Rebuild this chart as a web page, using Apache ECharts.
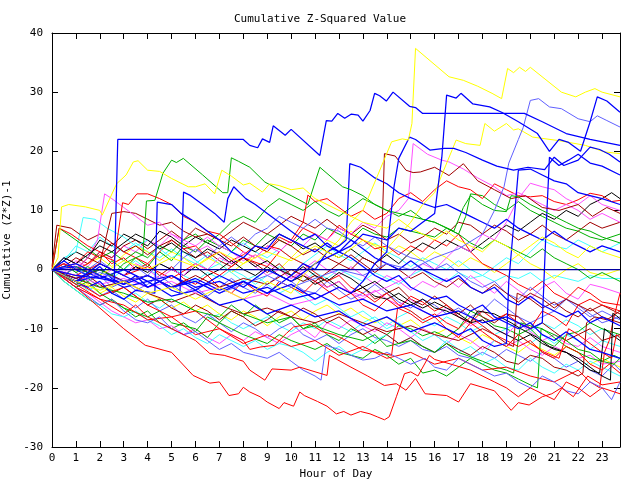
<!DOCTYPE html>
<html><head><meta charset="utf-8">
<script src="https://cdn.jsdelivr.net/npm/echarts@6/dist/echarts.min.js"></script>
<style>html,body{margin:0;padding:0;background:#fff}#c{width:640px;height:480px}</style>
</head><body><div id="c"></div>
<script>
// ---- data: [hour, cumulative (z*z)-1] ----
const blue1 = [[0,0],[1,-1],[2,-1.5],[2.6,-2],[2.75,22],[8,22],[8.27,21],[8.6,20.6],[8.8,22.1],[9.1,21.5],[9.25,24.3],[9.75,22.7],[10,23.7],[11.2,19.3],[11.47,25.2],[11.7,25.1],[11.95,26.4],[12.24,25.6],[12.52,26.3],[12.8,26.1],[13,25.1],[13.3,26.9],[13.49,29.8],[13.7,29.4],[13.98,28.5],[14.26,30],[14.95,27.6],[15.2,27.4],[15.5,26.4],[19.75,26.4],[20.5,25],[21.5,23],[22.5,22],[23.75,21]];
const yellow1 = [[0,0],[1,-2],[2,-3.5],[3,-2],[4,-4],[5,-3],[6,-5],[7,-3],[8,-5],[9,-2],[10,-4],[10.5,-1],[11,1],[11.5,3],[12,5],[12.5,8],[13,10],[13.5,14.8],[14.2,21.6],[14.65,22.1],[14.9,21.9],[15.05,24.7],[15.2,37.4],[16.6,32.6],[17.2,32],[17.8,31],[18.4,29.8],[18.8,28.9],[19.05,34],[19.3,33.3],[19.55,34.2],[19.8,33.5],[20,34.2],[21.3,30],[21.9,29.2],[22.3,30],[22.7,30.6],[23,30],[23.75,29.2]];
const green1 = [[0,0],[0.5,-1],[1,0.5],[1.5,-0.5],[2,0],[2.5,-1],[3,1],[3.5,2],[3.8,2.5],[3.95,11.6],[4.3,11.7],[4.64,16.3],[5,18.5],[5.2,18.1],[5.49,18.8],[6.3,16],[7.14,13],[7.35,13],[7.5,18.9],[7.8,18.3],[8.27,17.3],[8.9,14.8],[9.5,13.5],[10,12.5],[10.7,11],[11.2,17.3],[12.15,14],[12.5,13.5],[13,12.5],[13.5,11],[14,10],[15,9],[16,8],[16.8,6.5],[17.2,10.5],[17.5,12.5],[18,11],[18.5,10],[19,9.8],[19.2,12.5],[19.5,12.3],[20,11],[20.5,10],[21,9],[21.5,8],[22,7],[22.5,6.5],[23,5.5],[23.75,4.5]];
const yellow2 = [[0,0],[0.25,2],[0.4,10.6],[0.7,11],[1.4,10.6],[2,10],[2.1,9.2],[2.7,14.5],[3.1,16],[3.4,18.2],[3.6,18.4],[4,16.8],[4.5,16.6],[5,15.4],[5.7,14],[6,14],[6.4,14.5],[6.8,12.8],[7.1,16.8],[7.5,15.8],[8,14.3],[8.27,14.6],[8.8,13.1],[9.1,14.5],[9.5,14.2],[10,13.5],[10.5,13.8],[11,12],[11.5,11],[12,10],[12.5,9],[13,8],[13.5,7.5],[14,7],[14.5,8.5],[15,7],[15.5,6],[16,5],[16.5,6.5],[17,5],[17.5,4],[18,3],[18.5,5],[19,4],[19.5,2.5],[20,4],[20.5,5.5],[21,4.5],[21.5,3],[22,2],[22.5,4],[23,3],[23.75,2]];
const yellow3 = [[0,0],[1,1],[2,-1],[3,1.5],[4,0],[5,2],[6,0.5],[7,3],[8,1],[9,3],[10,1.5],[11,4],[12,2],[13,5],[14,3.5],[15,8],[15.5,11],[16,13],[16.3,16],[16.9,21.9],[17.3,21.3],[17.9,21],[18.1,24.7],[18.5,23.4],[19,24.7],[19.3,23.6],[19.5,23.8],[20.1,22.4],[21.2,21.8],[22.3,21],[23.1,19.9],[23.75,19.6]];
const blue2 = [[0,0],[1,-2],[2,1],[3,-1],[4,-3],[5,-1],[6,-3.5],[7,-1],[8,-3],[9,0],[10,-2],[11,1],[12,3],[12.5,4],[13,6],[14,5],[14.5,7],[15,6.5],[15.5,8],[16,9.5],[16.3,19],[16.5,29.5],[16.9,29],[17.1,29.8],[17.6,28],[18.3,27.5],[18.8,26.6],[19.5,25],[20.3,23],[20.8,20],[21.2,22],[21.6,21.5],[22.1,20],[22.5,25],[22.8,29.2],[23.2,28.5],[23.75,26.6]];
const lightblue1 = [[0,0],[0.5,-1],[1,0.5],[1.5,-1.5],[2,-0.5],[3,-2],[4,-1],[5,-3],[6,-2],[7,-4],[8,-2.5],[9,-1],[10,-3],[11,-1.5],[12,0],[13,-1],[14,1],[15,0],[16,2],[17,3.5],[18,6],[18.5,10],[18.9,14],[19.1,18],[19.5,22],[19.7,24],[20,28.6],[20.35,28.9],[20.8,27.5],[21.3,27.2],[22,25.5],[22.5,25],[22.8,26],[23.2,25.2],[23.75,24.1]];
const blue3 = [[0,0],[1,1],[2,-1],[3,-2.5],[4,-1],[5,-3],[6,-2],[7,-4],[8,-2],[9,-4],[10,-2.5],[11,-5],[12,-3],[12.5,-4],[13,-2],[13.5,1],[14,3],[14.3,14],[14.5,18.8],[14.95,22.4],[15.2,22],[15.8,20.2],[16.4,20.5],[16.8,20.5],[17.3,19.8],[18,18.5],[18.6,17.5],[19.3,16.8],[19.9,17.3],[20.6,16.9],[21,19],[21.4,17.6],[22,18.5],[22.5,20.7],[22.9,20.3],[23.3,19.5],[23.75,18.2]];
const darkred1 = [[0,0],[1,-1.5],[2,0],[3,-2],[4,-1],[5,-3],[6,-1],[7,-3],[8,-1.5],[9,-2.5],[10,0],[11,-2],[12,1],[12.5,0],[13,2],[13.5,1],[13.75,0],[13.9,19.6],[14.35,19.2],[14.8,16.8],[15.1,16.4],[15.4,16.5],[16,17.3],[16.6,15.9],[17.2,17.9],[17.8,15],[18.5,13.5],[19.2,12],[19.8,12.5],[20.5,10.5],[21.2,10],[22,11],[22.6,9],[23.2,10.5],[23.75,9.5]];
const magenta1 = [[0,0],[0.5,-1],[1,1],[1.5,0],[2,-1.5],[2.5,0],[3,-1],[3.5,1],[4,0],[4.5,-1.5],[5,0],[5.5,-1],[6,1],[6.5,0],[7,2],[7.5,1],[8,3],[8.5,2],[9,4],[9.5,3],[10,5],[10.5,4],[11,6],[11.5,5],[12,7],[12.5,6],[13,8],[13.5,7],[14,9],[14.5,10],[14.9,12],[15.1,21.3],[15.7,19.5],[16.3,18.5],[16.6,18.2],[17.2,17],[17.8,15.5],[18.5,14],[19,12.5],[19.5,13],[20,12],[20.5,11],[21,10],[21.5,11],[22,10],[22.5,8.5],[23,9.5],[23.75,8]];
const red1 = [[0,0],[1,-3],[2,-6.5],[3,-10],[3.9,-12.8],[5,-14],[5.9,-17.9],[6.6,-19.2],[7,-19],[7.4,-21.3],[7.8,-21],[8,-19.9],[8.27,-20.7],[8.7,-21.5],[9,-22.4],[9.5,-23.5],[9.7,-22.5],[10.1,-23.1],[10.36,-20.7],[10.55,-21.3],[11.1,-22.3],[11.5,-23.1],[11.89,-24.4],[12.2,-24],[12.5,-24.6],[12.9,-24],[13.3,-24.4],[13.6,-24.9],[13.9,-25.4],[14.1,-24.9],[14.4,-21.5],[14.74,-17.6],[15,-17.3],[15.3,-18],[15.78,-14.5],[16,-15.2],[16.6,-15.9],[17.5,-17],[18.5,-19],[19,-20],[19.5,-21.5],[20,-20],[20.5,-21],[21,-22],[21.5,-19],[22,-20],[22.5,-21.5],[23,-20],[23.75,-21]];
const red2 = [[0,0],[1,-2.5],[2,-5],[3,-7.5],[3.5,-6],[4,-8],[5,-10],[6,-12],[6.6,-14.2],[7.2,-14.5],[8,-15.5],[8.27,-17],[8.9,-18.7],[9.2,-16.8],[10,-17],[10.36,-16.5],[11.5,-17.9],[11.6,-14.5],[12.5,-16.5],[13.2,-18],[13.9,-19.6],[14.4,-19.3],[14.8,-20.4],[15.2,-18.4],[15.6,-21],[16.5,-21.3],[17,-22.4],[17.5,-19.3],[18.5,-20.5],[19.2,-23.8],[19.5,-22.5],[19.95,-22.9],[20.5,-21.5],[20.9,-21],[21.3,-20],[21.8,-21.5],[22.4,-18],[23,-19.5],[23.75,-19]];
const red3 = [[0,0],[1,-2],[2,-4.5],[3,-3],[4,-6],[5,-8],[6,-7],[7,-10],[8,-12],[8.27,-13.5],[8.7,-13.1],[9.3,-12.8],[9.8,-10.8],[10.1,-9.7],[10.8,-9.2],[11.3,-10.5],[11.8,-11],[12.3,-12],[13,-13.6],[13.6,-14],[14.2,-14.5],[14.45,-6.5],[15,-7.5],[15.5,-9],[16,-8],[16.5,-10],[17,-11.5],[17.5,-9],[18,-10.5],[18.5,-12],[19,-13],[19.5,-11],[20,-12.5],[20.6,-14],[21.2,-15],[21.6,-10],[22,-11],[22.5,-12.5],[23,-14],[23.4,-15],[23.6,-11],[23.75,-11.5]];
const red4 = [[0,0],[0.5,1],[1,0],[1.5,1],[2,2.5],[2.6,1.5],[2.95,11.3],[3.2,11],[3.55,12.8],[4,12.8],[4.5,12],[5,11],[5.5,9],[6,8],[6.5,6.5],[7,6],[7.5,4.5],[8,3],[8.5,2],[9,4],[9.5,3.5],[10,2],[10.5,1],[11,-0.5],[11.5,-2],[12,-1],[12.5,-3],[13,-4],[13.5,-5.5],[14,-4],[14.5,-6],[15,-7],[15.5,-8.5],[16,-7.5],[16.5,-9],[17,-10],[17.5,-8],[18,-9.5],[18.5,-11],[19,-12],[19.5,-13],[20,-12],[20.5,-14],[21,-15],[21.5,-13],[22,-14],[22.5,-16],[23,-17],[23.3,-16],[23.75,-17.5]];
const red5 = [[0,0],[1,-1],[2,1],[3,-1],[4,0.5],[5,-1.5],[6,1],[7,-1],[8,2],[9,0.5],[9.5,3],[10,5],[10.5,8],[10.7,12.6],[11,11.5],[11.5,12],[12,10.5],[12.5,9],[13,10],[13.5,8.5],[14,9.5],[14.5,12],[15,13],[15.5,11.5],[16,13.5],[16.5,15],[17,14],[17.5,13.5],[18,12],[18.5,14.5],[19,13.5],[19.5,12.5],[20,12.3],[20.5,12.5],[21,11.5],[21.5,11],[22,11.8],[22.5,12.9],[23,12.5],[23.4,11.5],[23.75,11.7]];
const red6 = [[0,0],[0.3,7],[0.8,6],[1.5,4],[2,3],[2.5,1],[3,2],[3.5,0],[4,1],[4.5,-1],[5,0.5],[5.5,-1.5],[6,-2.5],[6.5,-1],[7,-3],[7.5,-4],[8,-2],[8.5,-3.5],[9,-4.5],[9.5,-2],[10,-3],[10.5,-4],[11,-2],[11.5,-3.5],[12,-5],[12.5,-4],[13,-6],[13.5,-7],[14,-5],[14.5,-6.5],[15,-4.5],[15.5,-5.5],[16,-7],[16.5,-6],[17,-8],[17.5,-9],[18,-7],[18.5,-8.5],[19,-7.5],[19.5,-9],[20,-10],[20.5,-7],[21,-8],[21.5,-9.5],[22,-6],[22.5,-5],[23,-6],[23.75,-7]];
const red7 = [[0,0],[1,-3],[2,-5],[3,-6],[4,-8.5],[5,-8],[6,-11],[7,-10],[8,-12.5],[9,-11],[10,-13],[11,-12],[12,-14.5],[13,-13],[14,-15],[15,-14],[16,-16],[17,-15],[18,-17],[19,-16.5],[20,-18],[21,-19],[22,-17],[22.5,-19],[22.9,-20],[23.1,-14],[23.3,-12],[23.5,-8],[23.75,-4]];
const red8 = [[0,0],[0.5,2],[1,1],[1.5,3],[2,2],[2.5,4.5],[3,3],[3.5,2],[4,1],[4.5,3],[5,5],[5.5,3.5],[6,4],[6.5,2],[7,3],[7.5,1.5],[8,2.5],[8.5,4],[9,3],[9.5,5.5],[10,4.5],[10.5,7],[11,6],[11.5,5],[12,7.5],[12.5,6],[13,5],[13.5,3.5],[14,4],[14.5,2.5],[15,4],[15.5,3],[16,5],[16.5,4],[17,6],[17.5,3],[18,1],[18.5,0],[19,-1],[19.5,-2.5],[20,-3.5],[20.5,-2],[21,-4],[21.5,-5],[22,-3],[22.5,-4],[23,-5.5],[23.75,-6]];
const green2 = [[0,0],[0.5,-1.5],[1,-3],[1.5,-2],[2,-4],[3,-6.5],[4,-8],[4.5,-7],[5,-9],[6,-10],[6.5,-11.5],[7,-9],[7.5,-10],[8,-11],[9,-12.5],[9.5,-11],[10,-12],[11,-13.5],[11.5,-12.5],[12,-14],[13,-15],[13.5,-13.5],[14,-14.5],[14.5,-16],[15,-15],[15.5,-17.5],[16,-17],[16.5,-18],[17,-16.5],[17.5,-15],[18,-16],[18.5,-17],[19,-17.5],[19.5,-18.5],[20,-19.5],[20.3,-20],[20.45,-10],[21,-11],[21.5,-12],[22,-13.5],[22.5,-14],[23,-15.5],[23.5,-14.5],[23.75,-15]];
const green3 = [[0,0],[0.5,-2],[1,-3.5],[1.5,-5],[2,-6],[2.5,-5],[3,-6.5],[3.5,-8],[4,-7],[4.5,-9],[5,-10],[5.5,-9],[6,-10.5],[6.5,-8],[7,-9],[7.5,-7],[8,-8],[8.5,-6],[9,-7.5],[9.5,-9],[10,-8],[10.5,-10],[11,-9],[11.5,-11],[12,-12],[12.5,-10],[13,-11],[13.5,-12.5],[14,-11],[14.5,-9.5],[15,-10],[15.5,-11.2],[16,-10.5],[16.5,-11.4],[17,-10],[17.5,-7],[18,-8],[18.5,-9.5],[19,-10],[19.5,-11],[20,-10],[20.5,-12],[21,-13],[21.5,-11],[22,-10.5],[22.5,-9],[23,-10],[23.75,-11]];
const green4 = [[0,0],[0.5,1],[1,-0.5],[1.5,0.5],[2,-1],[2.5,1.5],[3,0],[3.5,2],[4,0.5],[4.5,3],[5,1.5],[5.5,4],[6,3],[6.5,5],[7,4],[7.5,3],[8,5],[8.5,4],[9,6],[9.5,5],[10,4],[10.5,6],[11,5],[11.5,7],[12,6],[12.5,5],[13,7],[13.5,6],[14,5.5],[14.5,7],[15,6.5],[15.5,6],[16,5.5],[16.5,7],[17,6],[17.3,9],[17.5,12.8],[18,12.5],[18.5,11],[19,10],[19.5,11.5],[20,10],[20.5,9],[21,8],[21.5,7],[22,6.5],[22.5,5.5],[23,5],[23.75,6]];
const green5 = [[0,0],[0.5,-1],[1,-2.5],[1.5,-1.5],[2,-3],[3,-4],[4,-5.5],[5,-5],[6,-7],[7,-8],[7.5,-6],[8,-7.5],[9,-9],[10,-8],[10.5,-10],[11,-9.5],[12,-11],[13,-12],[13.5,-11],[14,-13],[15,-12],[16,-14],[16.5,-12.5],[17,-14],[18,-15.5],[18.6,-16.5],[19,-17],[19.3,-17.5],[19.6,-9],[20,-9.5],[20.5,-10],[21,-11.5],[21.5,-13],[22,-14],[22.5,-15],[23,-15.5],[23.5,-16],[23.75,-15]];
const green6 = [[0,0],[0.3,7],[1,5],[1.5,3.5],[2,2],[2.5,3],[3,1.5],[3.5,3],[4,2],[4.5,4],[5,3],[5.5,5],[6,6],[6.5,4.5],[7,6],[7.5,8],[8,9],[8.5,8],[9,10.5],[9.5,12],[10,11],[10.5,10],[11,11.5],[11.5,10],[12,9],[12.5,10.5],[13,12],[13.5,11],[14,10],[14.5,9],[15,10],[15.5,8.5],[16,8],[16.5,7],[17,6],[17.5,4.5],[18,3.5],[18.5,5],[19,4],[19.5,3],[20,2],[20.5,3.5],[21,2],[21.5,1],[22,0],[22.5,-1.5],[23,-0.5],[23.75,-2]];
const blue4 = [[0,0],[1,-2],[2,-1],[3,-3],[4,-2],[5,-4.5],[6,-3.5],[7,-6],[8,-5],[9,-7.5],[10,-6],[11,-8],[12,-7],[13,-9.5],[14,-8],[15,-10.5],[16,-9],[17,-11],[17.5,-10],[18,-12],[18.5,-13],[19,-12.5],[19.1,-2],[19.25,5],[19.5,16.8],[20,17],[20.5,16],[21,15],[21.5,14.5],[22,13],[22.5,12.5],[23,12],[23.75,11]];
const blue5 = [[0,0],[1,0.5],[2,-1.5],[3,0],[4,-2],[5,-1],[6,-3],[7,-2],[8,-4],[9,-3],[10,-5],[11,-4],[12,-6],[13,-5],[14,-7],[15,-6],[16,-8],[17,-7],[18,-9],[19,-8],[20,-10],[20.5,-9],[20.65,6],[20.8,19],[21.2,17.6],[21.6,18.5],[22,19.5],[22.5,18],[23,17.5],[23.75,16]];
const blue6 = [[0,0],[0.5,-1],[1,-2],[1.5,-3],[2,-2],[2.5,-4],[3,-5],[3.5,-3.5],[4.3,-4],[4.4,11.4],[5,11],[5.4,9.5],[6,8],[6.5,6.5],[7,5],[7.5,3],[8,2],[8.5,4],[9,3.5],[9.5,6],[10,5],[10.5,4],[11,3],[11.5,4.5],[12,3],[12.5,2],[13,0.5],[13.5,-1],[14,-2],[14.5,-1],[15,-3],[15.5,-4],[16,-5],[16.5,-4.5],[17,-6],[17.5,-7],[18,-6],[18.5,-8],[19,-9],[19.5,-10],[20,-9],[20.5,-11],[21,-12],[21.5,-10.5],[22,-12],[22.5,-13.5],[23,-14],[23.75,-15]];
const blue7 = [[0,0],[0.5,1.5],[1,0],[1.5,-1],[2,0.5],[2.5,-1.5],[3,-2.5],[3.5,-1],[4,-3],[4.5,-2],[5,-3.5],[5.35,-4],[5.5,13.1],[5.8,12.5],[6.3,11],[6.8,9.5],[7.2,8],[7.35,12],[7.6,14],[8.1,12],[8.5,11],[9,9.5],[9.5,8],[10,6.5],[10.5,5],[11,6],[11.5,4],[12,3],[12.5,5],[13,3.5],[13.5,2],[14,1],[14.5,0],[15,1.5],[15.5,0],[16,-1],[16.5,-2],[17,-1],[17.5,-3],[18,-4],[18.5,-3],[19,-5],[19.5,-6],[20,-4.5],[20.5,-6],[21,-7],[21.5,-8],[22,-7],[22.5,-9],[23,-8],[23.75,-9.5]];
const blue8 = [[0,0],[1,-1.5],[2,0],[3,-2],[4,-1],[5,-3],[6,-1.5],[7,-3.5],[8,-2],[9,-4],[10,-1],[10.5,1],[11,0],[11.5,3],[12,4],[12.3,5],[12.45,17.9],[12.9,17.3],[13.5,15.5],[14,14.5],[14.5,13],[15,12],[15.5,11.2],[16,10.5],[16.5,11],[17,10],[17.5,9],[18,8],[18.5,7],[19,8.5],[19.5,7],[20,6],[20.5,5],[21,6.5],[21.5,5],[22,4],[22.5,3],[23,4],[23.75,3]];
const lightblue2 = [[0,0],[0.5,-1.5],[1,-3],[1.5,-4.5],[2,-6],[2.5,-5],[3,-7],[3.5,-8.5],[4,-9],[4.5,-8],[5,-10],[5.5,-11],[6,-10.5],[6.5,-12],[7,-13.5],[7.5,-12.5],[8,-14],[8.5,-14.5],[9,-15],[9.5,-14],[10,-15.5],[10.5,-17],[11,-18],[11.25,-18.7],[11.45,-12.8],[12,-13.5],[12.5,-14.5],[13,-15.3],[13.5,-15],[14,-14],[14.5,-15],[15,-16],[15.6,-15],[16,-16.5],[16.5,-17],[17,-15],[17.5,-16],[18,-17],[18.5,-18],[19,-17.5],[19.5,-19],[20,-20],[20.5,-18],[21,-19],[21.5,-20.5],[22,-21],[22.5,-19],[23,-20],[23.4,-22],[23.75,-19]];
const lightblue3 = [[0,0],[0.5,2],[1,1],[1.5,0],[2,1.5],[2.5,0],[3,-1],[3.5,0.5],[4,-1],[4.5,1],[5,0],[5.5,2],[6,3.5],[6.5,2],[7,4],[7.5,5.5],[8,4],[8.5,6],[9,7],[9.5,9],[10,8],[10.5,7],[11,8.5],[11.5,7],[12,6.5],[12.5,5],[13,4],[13.5,5.5],[14,4],[14.5,3],[15,2],[15.5,1.5],[16,0],[16.5,1],[17,-0.5],[17.5,-2],[18,-3],[18.5,-2],[19,-4],[19.5,-5],[20,-3],[20.5,-4.5],[21,-6],[21.5,-5],[22,-6.5],[22.5,-8],[23,-7],[23.75,-8.5]];
const lightblue4 = [[0,0],[0.5,-1],[1,-2.5],[1.5,-3],[2,-4.5],[2.5,-3.5],[3,-5],[3.5,-6.5],[4,-5],[4.5,-7],[5,-6],[5.5,-8],[6,-9],[6.5,-7.5],[7,-9],[7.5,-10.5],[8,-9],[8.5,-10],[9,-11.5],[9.5,-10],[10,-9],[10.5,-11],[11,-12],[11.5,-11],[12,-12.5],[12.5,-11],[13,-10],[13.5,-11.5],[14,-12],[14.5,-13],[15,-12],[15.5,-13.5],[16,-14],[16.5,-13],[17,-14.5],[17.5,-15],[18,-14],[18.5,-15],[19,-13.5],[19.5,-14.5],[20,-15.5],[20.5,-14],[21,-15],[21.5,-16.5],[22,-15.5],[22.5,-17],[23,-18],[23.5,-16],[23.75,-17]];
const lightblue5 = [[0,0],[0.5,1],[1,-0.5],[1.5,-2],[2,-1],[2.5,-3],[3,-2],[3.5,-3.5],[4,-2.5],[4.5,-1],[5,-2.5],[5.5,-4],[6,-3],[6.5,-4.5],[7,-3],[7.5,-1.5],[8,-3],[8.5,-4],[9,-2.5],[9.5,-1],[10,-2],[10.5,-3.5],[11,-4],[11.5,-2],[12,-3.5],[12.5,-5],[13,-4],[13.5,-2.5],[14,-4],[14.5,-5.5],[15,-6.5],[15.5,-5],[16,-6],[16.5,-7.5],[17,-6.5],[17.5,-8],[18,-7],[18.5,-5],[19,-6.5],[19.5,-8],[20,-9],[20.5,-8],[21,-7],[21.5,-5],[22,-6],[22.5,-7.5],[23,-9],[23.75,-8]];
const magenta2 = [[0,0],[0.5,1],[1,0],[1.5,2],[1.9,5],[2.2,12.8],[2.5,12],[3,10.5],[3.5,9],[4,7.5],[4.5,8],[5,6],[5.5,5],[6,4],[6.5,5.5],[7,4],[7.5,3],[8,1.5],[8.5,2.5],[9,1],[9.5,0],[10,-1.5],[10.5,-0.5],[11,-2],[11.5,-3],[12,-2],[12.5,-4],[13,-5],[13.5,-3.5],[14,-5],[14.5,-6],[15,-5],[15.5,-7],[16,-8],[16.5,-6.5],[17,-8],[17.5,-9.5],[18,-8.5],[18.5,-10],[19,-11],[19.5,-9],[20,-10.5],[20.5,-12],[21,-11],[21.5,-12.5],[22,-13],[22.5,-11.5],[23,-13],[23.75,-14]];
const magenta3 = [[0,0],[0.5,-1.5],[1,-3],[1.5,-4],[2,-5.5],[2.5,-7],[3,-8],[3.5,-9],[4,-8.5],[4.5,-10],[5,-9.5],[5.5,-11],[6,-10],[6.5,-11.5],[7,-12.5],[7.5,-11],[8,-12],[8.5,-10.5],[9,-11.5],[9.5,-12.5],[10,-11],[10.5,-10],[11,-11.5],[11.5,-9],[12,-10],[12.5,-8.5],[13,-9.5],[13.5,-10.5],[14,-9],[14.5,-10],[15,-11.5],[15.5,-10],[16,-11],[16.5,-12.5],[17,-11],[17.5,-12],[18,-13.5],[18.5,-12],[19,-13],[19.5,-12],[20,-13.5],[20.5,-14.5],[21,-13],[21.5,-14],[22,-15],[22.5,-14.5],[23,-16],[23.75,-15.5]];
const magenta4 = [[0,0],[0.5,-0.5],[1,1.5],[1.5,0.5],[2,3],[2.5,2],[3,4],[3.5,3],[4,5],[4.5,4],[5,6],[5.5,4.5],[6,3],[6.5,4],[7,2.5],[7.5,1],[8,2],[8.5,0.5],[9,-1],[9.5,0],[10,-1.5],[10.5,0],[11,1.5],[11.5,0],[12,-1],[12.5,0.5],[13,-1],[13.5,-2.5],[14,-1],[14.5,-2],[15,-3.5],[15.5,-2],[16,-3],[16.5,-1.5],[17,-3],[17.5,-1],[18,-2.5],[18.5,-4],[19,-2],[19.5,-3.5],[20,-5],[20.5,-3],[21,-2],[21.5,-4],[22,-5],[22.5,-2.5],[23,-3],[23.75,-4]];
const magenta5 = [[0,0],[1,-1],[2,-2.5],[3,-1.5],[4,-3],[5,-2],[6,-4],[7,-3],[8,-5],[9,-4],[10,-6],[11,-5],[12,-3],[13,-4.5],[14,-3],[15,-1],[15.5,1],[16,0],[16.5,2],[17,4],[17.5,3],[18,6],[18.5,5],[19,8],[19.5,12],[20,14.6],[20.5,14],[21,13.5],[21.5,12],[22,11],[22.5,12.5],[23,11],[23.75,10]];
const cyan1 = [[0,0],[0.5,2],[1,3],[1.3,8.8],[1.8,8.5],[2.3,7],[3,5.5],[3.5,4],[4,5],[4.5,3.5],[5,2],[5.5,3],[6,1.5],[6.5,0],[7,1],[7.5,-0.5],[8,-2],[8.5,-1],[9,-2.5],[9.5,-4],[10,-3],[10.5,-4.5],[11,-6],[11.5,-5],[12,-6.5],[12.5,-8],[13,-7],[13.5,-8.5],[14,-10],[14.5,-9],[15,-10.5],[15.5,-12],[16,-11],[16.5,-12.5],[17,-14],[17.5,-13],[18,-14.5],[18.5,-12],[19,-13],[19.5,-11],[20,-12.5],[20.5,-11],[21,-12.5],[21.5,-11],[22,-12],[22.5,-13.5],[23,-12],[23.75,-13]];
const cyan2 = [[0,0],[0.5,-2],[1,-3.5],[1.5,-5],[2,-6],[2.5,-7.5],[3,-8],[3.5,-7],[4,-8.5],[4.5,-9.5],[5,-11],[5.5,-10],[6,-11.5],[6.5,-12.5],[7,-11],[7.5,-12],[8,-13],[8.5,-12],[9,-13.5],[9.5,-12.5],[10,-13],[10.5,-14],[11,-15.5],[11.5,-14],[12,-13],[12.5,-14.5],[13,-13.5],[13.5,-12],[14,-11],[14.5,-12.5],[15,-11.5],[15.5,-13],[16,-14],[16.5,-12],[17,-13.5],[17.5,-14.5],[18,-16],[18.5,-15],[19,-16.5],[19.5,-17],[20,-15],[20.5,-16.5],[21,-17.5],[21.5,-16],[22,-17],[22.5,-15.5],[23,-16.5],[23.75,-18]];
const cyan3 = [[0,0],[0.5,-1],[1,0.5],[1.5,-1],[2,0],[2.5,-1.5],[3,0],[3.5,1.5],[4,0],[4.5,-1],[5,0.5],[5.5,-1],[6,-2],[6.5,-0.5],[7,-1.5],[7.5,0],[8,-1],[8.5,-2.5],[9,-1],[9.5,0.5],[10,-1],[10.5,-2],[11,-0.5],[11.5,-1.5],[12,0],[12.5,-1],[13,-2],[13.5,-0.5],[14,-1.5],[14.5,-2.5],[15,-1],[15.5,0],[16,-1.5],[16.5,-2],[17,-0.5],[17.5,-1.5],[18,-1],[18.5,-2],[19,-1],[19.5,-1.5],[20,-0.5],[20.5,-2],[21,-1],[21.5,-1.5],[22,-2],[22.5,-1],[23,-1.5],[23.75,-1.5]];
const cyan4 = [[0,0],[0.5,1.5],[1,4],[1.5,3],[2,5.5],[2.5,4],[3,3],[3.5,4.5],[4,3],[4.5,2],[5,3.5],[5.5,2],[6,1],[6.5,2.5],[7,1],[7.5,3],[8,4.5],[8.5,3],[9,2],[9.5,3.5],[10,2],[10.5,1],[11,2.5],[11.5,4],[12,2.5],[12.5,1.5],[13,3],[13.5,4.5],[14,3],[14.5,2],[15,0.5],[15.5,2],[16,1],[16.5,0],[17,1.5],[17.5,0],[18,-1],[18.5,0.5],[19,2],[19.5,1],[20,3],[20.5,5],[21,4],[21.5,3.5],[22,5],[22.5,4],[23,3],[23.75,4.5]];
const cyan5 = [[0,0],[0.5,-1],[1,-2],[1.5,-3.5],[2,-2.5],[2.5,-4],[3,-5],[3.5,-4],[4,-5.5],[4.5,-6.5],[5,-5],[5.5,-6],[6,-7],[6.5,-8.5],[7,-7.5],[7.5,-9],[8,-10],[8.5,-9],[9,-8],[9.5,-9.5],[10,-10.5],[10.5,-9],[11,-10],[11.5,-8.5],[12,-9.5],[12.5,-10.5],[13,-9],[13.5,-8],[14,-9.5],[14.5,-8],[15,-7],[15.5,-8.5],[16,-9.5],[16.5,-8],[17,-9],[17.5,-10.5],[18,-9.5],[18.5,-11],[19,-10],[19.5,-9],[20,-10.5],[20.5,-9],[21,-10],[21.5,-8.5],[22,-9.5],[22.5,-11],[23,-10],[23.75,-11.5]];
const darkred2 = [[0,0],[0.5,1],[1,0],[1.5,2],[2,1],[2.5,9.5],[3,9.8],[3.5,9.5],[4,8.5],[4.5,7.5],[5,8],[5.5,6.5],[6,5.5],[6.5,6],[7,5],[7.5,4],[8,5.5],[8.5,4],[9,3],[9.5,5],[10,4],[10.5,2.5],[11,3.5],[11.5,2],[12,1],[12.5,2.5],[13,1],[13.5,-0.5],[14,1],[14.5,0],[15,-1.5],[15.5,-0.5],[16,-2],[16.5,-3],[17,-1.5],[17.5,-3],[18,-4],[18.5,-2.5],[19,-4],[19.5,-5.5],[20,-4],[20.5,-5],[21,-6.5],[21.5,-5],[22,-6],[22.5,-7],[23,-6],[23.75,-7.5]];
const darkred3 = [[0,0.5],[0.2,7.5],[0.8,7],[1.5,5],[2,6],[2.5,4.5],[3,3],[3.5,4],[4,2.5],[4.5,4],[5,5],[5.5,3.5],[6,2],[6.5,3],[7,1.5],[7.5,0.5],[8,2],[8.5,1],[9,-0.5],[9.5,1],[10,-1],[10.5,-2],[11,-1],[11.5,-3],[12,-2],[12.5,-4],[13,-3],[13.5,-5],[14,-4],[14.5,-3],[15,-5],[15.5,-6],[16,-4.5],[16.5,-6],[17,-7.5],[17.5,-6],[18,-8],[18.5,-9],[19,-7.5],[19.5,-8],[20,-10],[20.5,-9],[21,-10.5],[21.5,-12],[22,-11],[22.5,-10],[23,-12],[23.75,-11]];
const darkred4 = [[0,0],[1,-1.5],[2,-3],[3,-2],[4,-4],[5,-5.5],[6,-4],[7,-6],[8,-7.5],[9,-6.5],[10,-8],[11,-9],[12,-7.5],[13,-9],[14,-10.5],[15,-9.5],[16,-11],[17,-12],[18,-10],[18.5,-11],[19,-12.5],[19.3,-13],[19.45,-4],[20,-5],[20.5,-6.5],[21,-5.5],[21.5,-7],[22,-8],[22.5,-6.5],[23,-8],[23.75,-9]];
const darkred5 = [[0,0],[0.5,0.5],[1,2],[1.5,1],[2,3],[2.5,2],[3,4],[3.5,5],[4,3.5],[4.5,5],[5,6.5],[5.5,5],[6,7],[6.5,6],[7,5],[7.5,6.5],[8,8],[8.5,7],[9,6],[9.5,7.5],[10,9],[10.5,8],[11,7],[11.5,8.5],[12,7],[12.5,6],[13,7.5],[13.5,6.5],[14,5],[14.5,6],[15,4.5],[15.5,5.5],[16,7],[16.5,6],[17,8],[17.5,7.5],[18,6],[18.5,7.5],[19,6.5],[19.5,5],[20,6],[20.5,7.5],[21,6],[21.5,5],[22,6.5],[22.5,8],[23,7],[23.75,8]];
const darkred6 = [[0,0],[0.5,-1],[1,-2],[1.5,-1],[2,-2.5],[2.5,-4],[3,-3],[3.5,-4.5],[4,-6],[4.5,-5],[5,-6.5],[5.5,-7.5],[6,-6],[6.5,-7],[7,-8.5],[7.5,-7],[8,-8],[8.5,-9.5],[9,-8.5],[9.5,-7],[10,-8],[10.5,-6.5],[11,-7.5],[11.5,-9],[12,-8],[12.5,-9.5],[13,-11],[13.5,-10],[14,-11],[14.5,-12.5],[15,-11.5],[15.5,-13],[16,-14],[16.5,-12.5],[17,-13.5],[17.5,-14.5],[18,-13],[18.5,-14],[19,-15.5],[19.5,-16],[20,-14.5],[20.5,-15],[21,-16.5],[21.5,-17],[22,-18],[22.2,-17.5],[22.35,-9],[22.7,-8],[23.2,-8.5],[23.75,-7]];
const yellow4 = [[0,0],[0.5,-1.5],[1,-1],[1.5,-2.5],[2,-4],[2.5,-3],[3,-4.5],[3.5,-5.5],[4,-4],[4.5,-5],[5,-6.5],[5.5,-5.5],[6,-7],[6.5,-6],[7,-7.5],[7.5,-8.5],[8,-7],[8.5,-8],[9,-9.5],[9.5,-8],[10,-7],[10.5,-8.5],[11,-7],[11.5,-6],[12,-7.5],[12.5,-6.5],[13,-8],[13.5,-9],[14,-8],[14.5,-9.5],[15,-8.5],[15.5,-10],[16,-11],[16.5,-10],[17,-11.5],[17.5,-12.5],[18,-11],[18.5,-12],[19,-13],[19.5,-14],[20,-12.5],[20.5,-13.5],[21,-14.5],[21.5,-13],[22,-14],[22.5,-16],[23,-15],[23.75,-16.5]];
const yellow5 = [[0,0],[0.5,1],[1,-0.5],[1.5,1],[2,2],[2.5,0.5],[3,2.5],[3.5,4],[4,3],[4.5,1.5],[5,3],[5.5,2],[6,0.5],[6.5,2],[7,1],[7.5,-0.5],[8,1],[8.5,2.5],[9,1.5],[9.5,0],[10,2],[10.5,4],[11,3],[11.5,5],[12,4],[12.5,6.5],[13,5],[13.5,4],[14,2.5],[14.5,4],[15,3],[15.5,1.5],[16,3],[16.5,2],[17,0.5],[17.5,2],[18,1],[18.5,-0.5],[19,1],[19.5,2.5],[20,1],[20.5,0],[21,-1.5],[21.5,0],[22,1],[22.5,-0.5],[23,-1],[23.75,0]];
const black1 = [[0,0],[0.5,-1],[1,0.5],[1.5,-0.5],[2,1],[2.5,0],[3,-1],[3.5,0.5],[4,-0.5],[4.5,1],[5,0],[5.5,-1],[6,0.5],[6.5,-1],[7,0],[7.5,1.5],[8,0],[8.5,-1],[9,0.5],[9.5,-1],[10,-2],[10.5,-1],[11,-2.5],[11.5,-1.5],[12,-3],[12.5,-4],[13,-3],[13.5,-4.5],[14,-5],[14.5,-4],[15,-5.5],[15.5,-6.5],[16,-5.5],[16.5,-6.5],[17,-7.5],[17.5,-8.9],[17.8,-7],[18.5,-7.5],[19.2,-9],[19.6,-10],[20.3,-11.5],[20.8,-13],[21.5,-14],[22,-15],[22.5,-16.5],[23,-18],[23.35,-18.7],[23.45,-7.4],[23.6,-7.8],[23.75,-8.3]];
const black2 = [[0,0],[0.5,2],[1,1],[1.5,2.5],[2,4],[2.5,3],[3,4.5],[3.5,6],[4,5],[4.5,3.5],[5,4.5],[5.5,3],[6,2],[6.5,3.5],[7,2.5],[7.5,1],[8,2],[8.5,0.5],[9,1.5],[9.5,0],[10,-1],[10.5,0.5],[11,-1],[11.5,-2],[12,-0.5],[12.5,-1.5],[13,-3],[13.5,-2],[14,-3.5],[14.5,-5],[15,-6],[15.5,-5],[16,-6.5],[16.5,-7],[17,-8],[17.5,-9],[18,-8.5],[18.5,-10],[19,-11],[19.5,-12],[20,-11],[20.5,-12.5],[21,-13.5],[21.5,-14],[22,-15.5],[22.5,-17],[22.9,-17.5],[23.1,-10],[23.4,-11],[23.75,-12]];
const black3 = [[0,0],[0.5,1.5],[1,3],[1.5,2],[2,5],[2.5,4],[3,6],[3.5,5],[4,4],[4.5,6.5],[5,5.5],[5.5,4],[6,5.5],[6.5,4.5],[7,3.5],[7.5,5],[8,4],[8.5,3],[9,4.5],[9.5,6],[10,5],[10.5,3.5],[11,4.5],[11.5,3],[12,2],[12.5,3.5],[13,2],[13.5,1],[14,2.5],[14.5,1],[15,3],[15.5,4.5],[16,3.5],[16.5,5],[17,4],[17.5,3],[18,4.5],[18.5,6],[19,7.5],[19.5,6.5],[20,8],[20.5,9.5],[21,8.5],[21.5,10],[22,9],[22.5,11],[23,12],[23.4,13],[23.75,12]];
const zeroLine = [[0,0],[23.75,0]];

const xMin = 0, xMax = 23.75, yMin = -30, yMax = 40;
const titleText = 'Cumulative Z-Squared Value';
const xTitle = 'Hour of Day';
const yTitle = 'Cumulative (Z*Z)-1';

// ---- styling ----
const C = {red:'#ff0000', green:'#00b000', blue:'#0000ff', magenta:'#ff50ff', cyan:'#40ffff', darkred:'#a00000', yellow:'#ffff00', black:'#000000', lightblue:'#6060ff'};
const walks = [
  [cyan3,'cyan'],[cyan4,'cyan'],[yellow5,'yellow'],[magenta4,'magenta'],[lightblue5,'lightblue'],[green4,'green'],
  [darkred5,'darkred'],[red8,'red'],[black3,'black'],[cyan5,'cyan'],[yellow4,'yellow'],[lightblue4,'lightblue'],
  [green3,'green'],[magenta3,'magenta'],[cyan2,'cyan'],[cyan1,'cyan'],[darkred3,'darkred'],[lightblue3,'lightblue'],
  [green6,'green'],[darkred2,'darkred'],[magenta2,'magenta'],[red6,'red'],[darkred6,'darkred'],[darkred4,'darkred'],
  [green5,'green'],[green2,'green'],[red7,'red'],[black2,'black'],[black1,'black'],[lightblue2,'lightblue'],
  [red3,'red'],[red2,'red'],[red1,'red'],[red4,'red'],[red5,'red'],[magenta5,'magenta'],[magenta1,'magenta'],
  [blue6,'blue'],[blue7,'blue'],[blue8,'blue'],[blue4,'blue'],[blue5,'blue'],[darkred1,'darkred'],
  [green1,'green'],[yellow2,'yellow'],[yellow3,'yellow'],[lightblue1,'lightblue'],[blue3,'blue'],[blue2,'blue'],
  [yellow1,'yellow'],[blue1,'blue']
];

const series = walks.map(([d, c]) => ({
  type:'line', data:d, showSymbol:false, symbol:'none', silent:true,
  lineStyle:{color:C[c], width: c==='blue' ? 1.25 : 1}, z:2
}));
series.push({type:'line', data:zeroLine, showSymbol:false, symbol:'none', silent:true,
  lineStyle:{color:'#0000a0', width:1.25}, z:3});

const font = 'DejaVu Sans Mono';
const chart = echarts.init(document.getElementById('c'), null, {renderer:'canvas'});
chart.setOption({
  animation:false,
  backgroundColor:'#fff',
  title:{text:titleText, left:'center', top:9, textStyle:{fontFamily:font, fontSize:11, fontWeight:'normal', color:'#000'}},
  grid:{left:52, right:20, top:33, bottom:33, containLabel:false, outerBoundsMode:'none'},
  xAxis:[{
    type:'value', min:xMin, max:xMax, interval:1, position:'bottom',
    name:xTitle, nameLocation:'middle', nameGap:20,
    nameTextStyle:{fontFamily:font, fontSize:11, color:'#000'},
    axisLine:{show:true, onZero:false, lineStyle:{color:'#000', width:1}},
    axisTick:{show:true, inside:true, length:6, lineStyle:{color:'#000'}},
    axisLabel:{fontFamily:font, fontSize:11, color:'#000', margin:6, showMaxLabel:false},
    splitLine:{show:false}
  },{
    type:'value', min:xMin, max:xMax, interval:1, position:'top',
    axisLine:{show:true, onZero:false, lineStyle:{color:'#000', width:1}},
    axisTick:{show:true, inside:true, length:6, lineStyle:{color:'#000'}},
    axisLabel:{show:false}, splitLine:{show:false}
  }],
  yAxis:[{
    type:'value', min:yMin, max:yMax, interval:10, position:'left',
    name:yTitle, nameLocation:'middle', nameGap:30, nameRotate:90,
    nameTextStyle:{fontFamily:font, fontSize:11, color:'#000'},
    axisLine:{show:true, onZero:false, lineStyle:{color:'#000', width:1}},
    axisTick:{show:true, inside:true, length:6, lineStyle:{color:'#000'}},
    axisLabel:{fontFamily:font, fontSize:11, color:'#000', margin:9},
    splitLine:{show:false}
  },{
    type:'value', min:yMin, max:yMax, interval:10, position:'right',
    axisLine:{show:true, onZero:false, lineStyle:{color:'#000', width:1}},
    axisTick:{show:true, inside:true, length:6, lineStyle:{color:'#000'}},
    axisLabel:{show:false}, splitLine:{show:false}
  }],
  series: series
});
</script></body></html>
